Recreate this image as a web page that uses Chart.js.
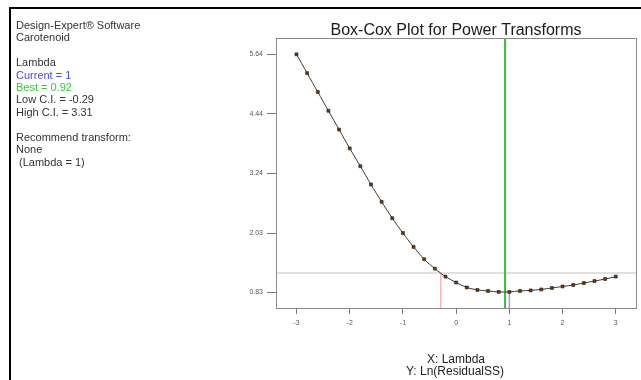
<!DOCTYPE html>
<html>
<head>
<meta charset="utf-8">
<script src="https://cdn.jsdelivr.net/npm/chart.js@4/dist/chart.umd.min.js"></script>
<style>
  html, body { margin: 0; padding: 0; background: #fff; }
  #wrap { width: 641px; height: 380px; position: relative; }
</style>
</head>
<body>
<div id="wrap"><canvas id="c"></canvas></div>
<script>
// ---- data ----
const lambdas = [-3.0, -2.8, -2.6, -2.4, -2.2, -2.0, -1.8, -1.6, -1.4, -1.2, -1.0, -0.8, -0.6, -0.4, -0.2,
                 0.0, 0.2, 0.4, 0.6, 0.8, 1.0, 1.2, 1.4, 1.6, 1.8, 2.0, 2.2, 2.4, 2.6, 2.8, 3.0];
const lnResidualSS = [5.64, 5.26, 4.88, 4.50, 4.12, 3.74, 3.38, 3.01, 2.66, 2.33, 2.03, 1.75, 1.50, 1.31, 1.15,
                      1.03, 0.93, 0.88, 0.86, 0.84, 0.84, 0.86, 0.87, 0.89, 0.92, 0.95, 0.98, 1.02, 1.06, 1.10, 1.15];
const xTickValues = [-3, -2, -1, 0, 1, 2, 3];
const yTickValues = [0.83, 2.03, 3.24, 4.44, 5.64];
const currentLambda = 1;
const bestLambda = 0.92;
const lowCI = -0.29;
const highCI = 3.31;
const ciThreshold = 1.224;
const currentValue = 0.84;
const infoLines = [
  ["Design-Expert\u00AE Software", "#333"],
  ["Carotenoid", "#333"],
  ["", "#333"],
  ["Lambda", "#333"],
  ["Current = 1", "#4a4aff"],
  ["Best = 0.92", "#33cc33"],
  ["Low C.I. = -0.29", "#333"],
  ["High C.I. = 3.31", "#333"],
  ["", "#333"],
  ["Recommend transform:", "#333"],
  ["None", "#333"],
  [" (Lambda = 1)", "#333"]
];
const titleText = "Box-Cox Plot for Power Transforms";
const xTitle = "X: Lambda";
const yTitle = "Y: Ln(ResidualSS)";

// ---- scale range ----
const xMin = -3.385, xMax = 3.38;
const yMin = 0.515, yMax = 5.97;

const FONT = "Arial, 'Liberation Sans', sans-serif";

const curve = lambdas.map((l, i) => ({ x: l, y: lnResidualSS[i] }));

const decor = {
  id: 'decor',
  afterDraw(chart) {
    const ctx = chart.ctx;
    const a = chart.chartArea;
    ctx.save();
    // plot box
    ctx.strokeStyle = '#8a8a8a';
    ctx.lineWidth = 1;
    ctx.strokeRect(Math.round(a.left) + 0.5, Math.round(a.top) + 0.5,
                   Math.round(a.right - a.left), Math.round(a.bottom - a.top));
    // outer frame
    ctx.fillStyle = '#000';
    ctx.fillRect(9, 7, 632, 2);
    ctx.fillRect(9, 7, 2, 373);
    // title
    ctx.fillStyle = '#1a1a1a';
    ctx.font = '16px ' + FONT;
    ctx.textAlign = 'center';
    ctx.textBaseline = 'alphabetic';
    ctx.fillText(titleText, (a.left + a.right) / 2, 35);
    // info text
    ctx.font = '11px ' + FONT;
    ctx.textAlign = 'left';
    infoLines.forEach((ln, i) => {
      ctx.fillStyle = ln[1];
      ctx.fillText(ln[0], 16, 28.7 + i * 12.45);
    });
    // axis titles
    ctx.fillStyle = '#222';
    ctx.font = '12px ' + FONT;
    ctx.textAlign = 'center';
    ctx.fillText(xTitle, 456, 363);
    ctx.fillText(yTitle, 455, 375);
    ctx.restore();
  }
};

new Chart(document.getElementById('c'), {
  type: 'scatter',
  data: {
    datasets: [
      {
        label: 'curve',
        type: 'line',
        data: curve,
        borderColor: '#3a3a3a',
        borderWidth: 1,
        tension: 0.3,
        pointStyle: 'rect',
        pointRadius: 2.1,
        pointBackgroundColor: '#6b3c10',
        pointBorderColor: '#2a1a0a',
        pointBorderWidth: 0.6,
        order: 0
      },
      {
        label: 'threshold',
        type: 'line',
        data: [{ x: xMin, y: ciThreshold }, { x: xMax, y: ciThreshold }],
        borderColor: '#d6d6d6',
        borderWidth: 1.5,
        pointRadius: 0,
        order: 5
      },
      {
        label: 'best',
        type: 'line',
        data: [{ x: bestLambda, y: yMin }, { x: bestLambda, y: yMax }],
        borderColor: '#2fbf2f',
        borderWidth: 2,
        pointRadius: 0,
        order: 3
      },
      {
        label: 'current',
        type: 'line',
        data: [{ x: currentLambda, y: yMin }, { x: currentLambda, y: currentValue }],
        borderColor: '#9a9aff',
        borderWidth: 1.5,
        pointRadius: 0,
        order: 4
      },
      {
        label: 'lowci',
        type: 'line',
        data: [{ x: lowCI, y: yMin }, { x: lowCI, y: ciThreshold }],
        borderColor: '#ffb0b8',
        borderWidth: 1.5,
        pointRadius: 0,
        order: 4
      }
    ]
  },
  options: {
    responsive: true,
    maintainAspectRatio: false,
    animation: false,
    layout: { padding: { left: 236, right: 5, top: 38, bottom: 32 } },
    plugins: {
      legend: { display: false },
      tooltip: { enabled: false },
      title: { display: false }
    },
    scales: {
      x: {
        type: 'linear',
        min: xMin, max: xMax,
        afterBuildTicks: s => { s.ticks = xTickValues.map(v => ({ value: v })); },
        afterFit: s => { s.height = 40; },
        grid: { drawOnChartArea: false, drawTicks: true, tickLength: 6, color: '#777', lineWidth: 1 },
        border: { display: true, color: '#8a8a8a' },
        ticks: {
          color: '#556', font: { family: FONT, size: 7 }, padding: 5,
          maxRotation: 0, autoSkip: false,
          callback: v => String(v)
        }
      },
      y: {
        type: 'linear',
        min: yMin, max: yMax,
        afterBuildTicks: s => { s.ticks = yTickValues.map(v => ({ value: v })); },
        afterFit: s => { s.width = 40; },
        grid: { drawOnChartArea: false, drawTicks: true, tickLength: 9, color: '#777', lineWidth: 1 },
        border: { display: true, color: '#8a8a8a' },
        ticks: {
          color: '#556', font: { family: FONT, size: 7 }, padding: 4, autoSkip: false,
          callback: v => v.toFixed(2)
        }
      }
    }
  },
  plugins: [decor]
});
</script>
</body>
</html>
